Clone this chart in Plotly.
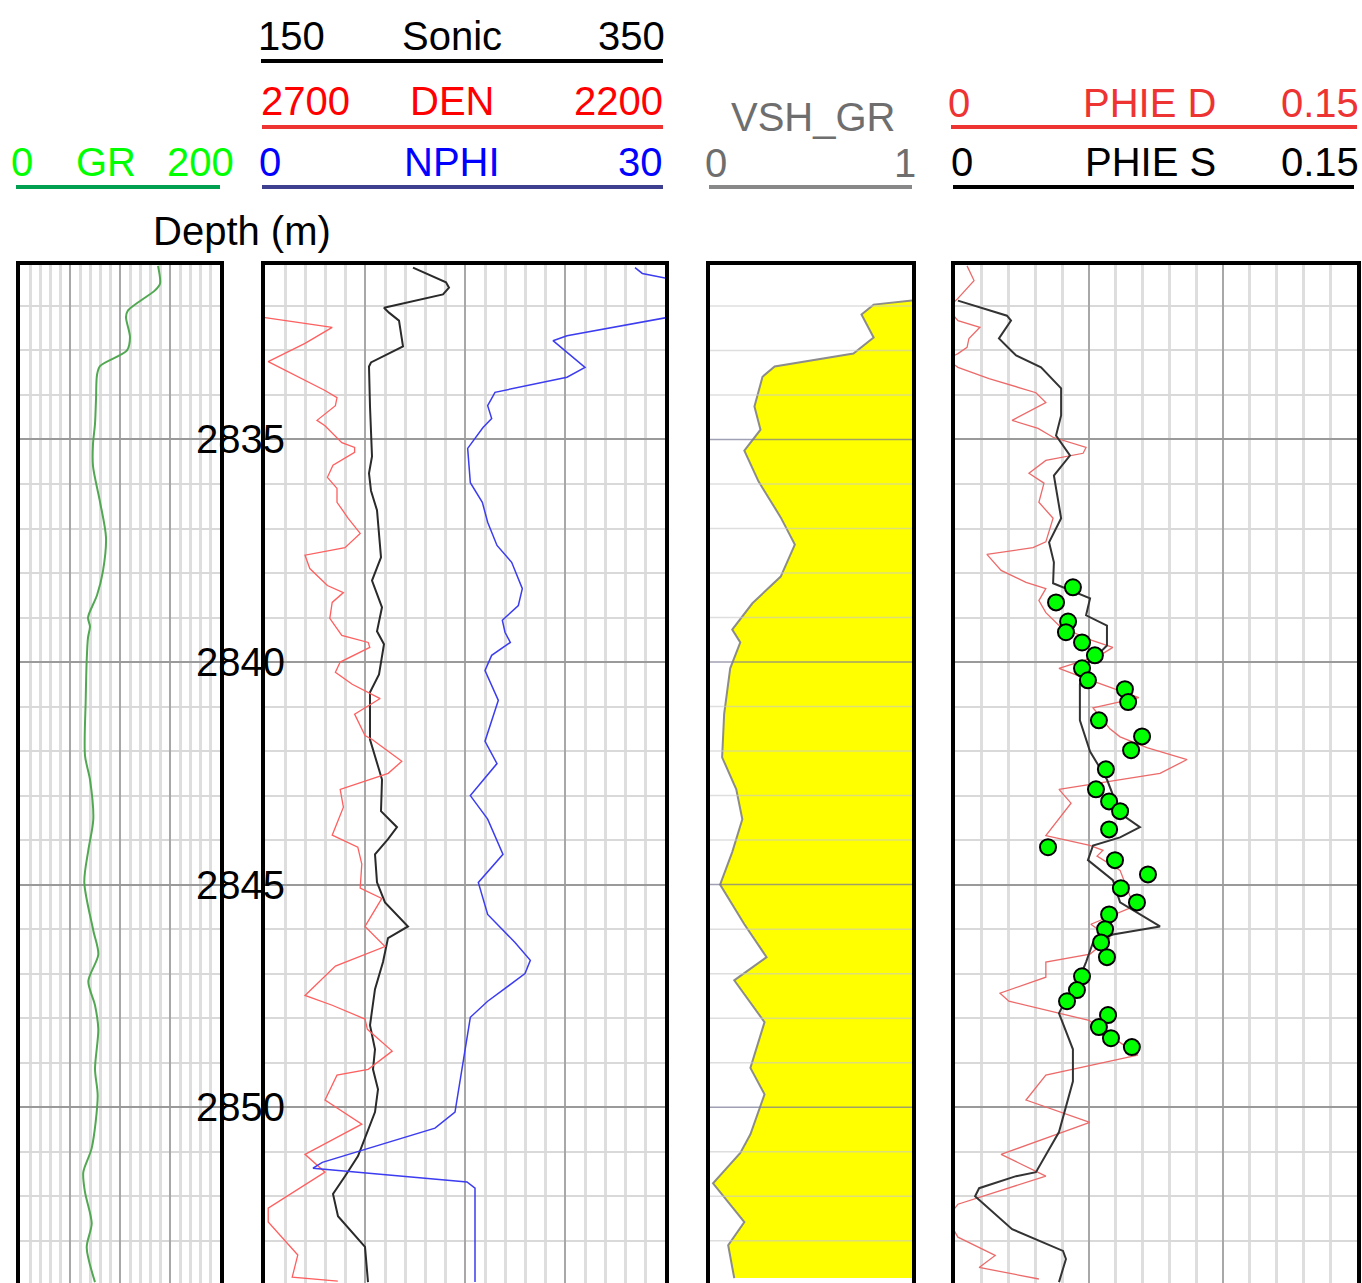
import math
import plotly.graph_objects as go

W, H = 1362, 1283

def fx(p):
    return p / W

def fy(p):
    return 1 - p / H

FONT = "Liberation Sans, Arial, sans-serif"
FS = 40

DEPTH_TOP = 2831.08
DEPTH_BOT = 2853.95
depth_major = [2835, 2840, 2845, 2850]
depth_labels = ["2835", "2840", "2845", "2850"]

# ---------------- GR ----------------
gr_depth = [2831.1, 2831.5, 2831.65, 2832.1, 2832.25, 2832.7, 2833.0, 2833.35, 2833.55,
            2834.1, 2834.65, 2835.1, 2835.6, 2836.4, 2837.2, 2837.95, 2838.5, 2839.0,
            2839.2, 2839.45, 2839.96, 2840.86, 2842.1, 2842.64, 2843.53, 2844.23, 2844.95,
            2846.03, 2846.57, 2847.17, 2847.71, 2848.25, 2849.15, 2849.75, 2850.92,
            2851.46, 2851.91, 2852.61, 2853.15, 2853.93]
gr_val = [138, 140, 135, 108, 106, 110, 107, 80, 77,
          76, 75, 73, 73, 80, 86, 83, 77, 68,
          70, 68, 66.7, 65.7, 65, 70, 73.3, 68.3, 64.3,
          73.3, 78.3, 68.3, 75, 78.3, 75, 77.7, 71.7,
          63.3, 65, 71.7, 66.7, 75]

# ---------------- Sonic ----------------
son_depth = [2831.14, 2831.47, 2831.59, 2831.74, 2832.04, 2832.15, 2832.33, 2832.91, 2833.27,
             2833.36, 2834.26, 2835.38, 2835.76, 2836.15, 2836.59, 2837.65, 2838.17, 2838.77,
             2839.31, 2839.6, 2840.28, 2840.68, 2841.74, 2842.64, 2843.35, 2843.71, 2843.98,
             2844.32, 2844.95, 2845.4, 2845.94, 2846.2, 2846.74, 2847.35, 2848.16, 2848.7,
             2849.15, 2849.6, 2850.11, 2851.1, 2851.55, 2851.95, 2852.45, 2852.87, 2853.14,
             2853.93]
son_val = [224, 240.5, 242, 239, 209.5, 212, 217, 219, 203,
           202, 202.5, 203.5, 202, 203, 206, 208, 203.5, 208.5,
           206, 209.5, 207, 202.5, 202.5, 208.5, 208, 216, 211.5,
           205, 206, 210, 221.5, 211.5, 209, 205, 202.5, 205,
           204, 206.5, 205, 196.5, 190, 184, 186.5, 195, 200,
           201.5]

# ---------------- DEN ----------------
den_depth = [2832.26, 2832.48, 2832.84, 2833.25, 2833.9, 2834.06, 2834.24, 2834.57, 2834.69,
             2835.07, 2835.18, 2835.29, 2835.58, 2835.85, 2836.1, 2836.41, 2836.77, 2837.11,
             2837.43, 2837.6, 2837.9, 2838.28, 2838.44, 2838.66, 2839.02, 2839.4, 2839.56,
             2839.67, 2840.0, 2840.23, 2840.5, 2840.82, 2841.17, 2841.65, 2841.74, 2842.23,
             2842.5, 2842.86, 2843.26, 2843.89, 2844.16, 2844.54, 2845.08, 2845.31, 2845.94,
             2846.39, 2846.83, 2847.49, 2847.71, 2848.02, 2848.25, 2848.74, 2849.15, 2849.28,
             2849.84, 2850.38, 2851.06, 2851.46, 2852.27, 2852.58, 2853.32, 2853.82, 2853.91]
den_val = [2700, 2616, 2650, 2696, 2625, 2610, 2612, 2635, 2625,
           2604, 2588, 2588, 2615, 2622, 2610, 2610, 2596, 2581,
           2600, 2650, 2644, 2622, 2602, 2616, 2619, 2604, 2571,
           2569, 2606, 2612, 2591, 2556, 2588, 2575, 2566, 2529,
           2546, 2606, 2602, 2616, 2584, 2579, 2581, 2554, 2575,
           2550, 2612, 2650, 2616, 2575, 2572, 2541, 2571, 2610,
           2625, 2579, 2650, 2625, 2696, 2696, 2659, 2666, 2609]

# ---------------- NPHI ----------------
nphi_depth = [2831.14, 2831.27, 2831.38, 2831.8, 2832.26, 2832.67, 2832.78, 2833.05, 2833.38,
              2833.6, 2833.94, 2834.24, 2834.53, 2834.73, 2835.2, 2835.97, 2836.41, 2836.86,
              2837.38, 2837.76, 2838.35, 2838.73, 2839.06, 2839.33, 2839.56, 2839.85, 2840.19,
              2840.86, 2841.56, 2841.78, 2842.28, 2843.0, 2843.53, 2844.32, 2844.95, 2845.67,
              2846.3, 2846.7, 2847.0, 2847.62, 2847.98, 2848.97, 2850.11, 2850.47, 2851.24,
              2851.37, 2851.68, 2851.82, 2853.93]
nphi_val = [27.75, 28.3, 30.15, 34.0, 30.15, 22.65, 21.6, 22.7, 24.0,
            22.65, 17.25, 16.7, 17.0, 16.35, 15.2, 15.4, 16.3, 16.7,
            17.4, 18.5, 19.3, 19.0, 17.8, 18.0, 18.4, 17.0, 16.5,
            17.5, 16.7, 16.5, 17.4, 15.4, 16.7, 17.85, 16.0, 16.7,
            18.75, 19.9, 19.5, 16.7, 15.4, 14.85, 14.25, 12.75, 4.3,
            3.6, 15.15, 15.75, 15.75]

# ---------------- VSH_GR ----------------
vsh_depth = [2831.88, 2831.97, 2832.19, 2832.71, 2833.07, 2833.36, 2833.59, 2834.26, 2834.78,
             2835.25, 2835.94, 2836.75, 2837.36, 2838.08, 2838.68, 2839.27, 2839.56, 2840.14,
             2841.17, 2842.14, 2842.86, 2843.53, 2844.27, 2845.0, 2845.89, 2846.63, 2847.15,
             2848.09, 2849.12, 2849.71, 2850.61, 2851.03, 2851.71, 2852.58, 2853.1, 2853.84]
vsh_val = [1.0, 0.81, 0.75, 0.81, 0.71, 0.32, 0.26, 0.22, 0.25,
           0.17, 0.24, 0.35, 0.42, 0.35, 0.21, 0.11, 0.15, 0.10,
           0.07, 0.06, 0.13, 0.16, 0.11, 0.05, 0.17, 0.28, 0.12,
           0.27, 0.20, 0.27, 0.20, 0.15, 0.015, 0.17, 0.09, 0.12]

# ---------------- PHIE D ----------------
phid_depth = [2831.1, 2831.43, 2831.83, 2832.05, 2832.33, 2832.48, 2832.73, 2832.93, 2833.07,
              2833.2, 2833.38, 2833.63, 2833.95, 2834.17, 2834.57, 2834.75, 2834.95, 2835.18,
              2835.31, 2835.47, 2835.76, 2835.98, 2836.41, 2836.77, 2837.3, 2837.43, 2837.58,
              2837.94, 2838.21, 2838.35, 2838.62, 2838.89, 2839.18, 2839.47, 2839.67, 2839.85,
              2840.14, 2840.37, 2840.8, 2841.03, 2841.5, 2841.68, 2841.92, 2842.19, 2842.5,
              2842.86, 2843.17, 2843.53, 2843.9, 2844.12, 2844.23, 2844.36, 2844.68, 2845.49,
              2845.89, 2846.2, 2846.56, 2846.74, 2847.08, 2847.44, 2847.62, 2848.05, 2848.83,
              2849.28, 2849.84, 2850.34, 2851.06, 2851.55, 2852.18, 2852.5, 2852.92, 2853.33,
              2853.6, 2853.86]
phid_val = [0.0045, 0.0071, 0.0011, -0.003, 0.0011, 0.0093, 0.0052, 0.0045, 0.0011,
            -0.003, 0.0011, 0.0127, 0.0302, 0.0339, 0.0213, 0.0310, 0.0366, 0.0489,
            0.0478, 0.0339, 0.0276, 0.0332, 0.0313, 0.0366, 0.0339, 0.0291, 0.0119,
            0.0172, 0.0265, 0.0339, 0.0313, 0.0339, 0.0388, 0.0489, 0.0589, 0.0541,
            0.0388, 0.0489, 0.0686, 0.0515, 0.0578, 0.0616, 0.0716, 0.0866, 0.0765,
            0.0388, 0.0433, 0.0388, 0.0339, 0.0503, 0.0552, 0.0530, 0.0616, 0.0668,
            0.0507, 0.0578, 0.0504, 0.0339, 0.0339, 0.0168, 0.0201, 0.0500, 0.0682,
            0.0339, 0.0265, 0.0503, 0.0172, 0.0339, 0.0011, -0.003, 0.0011, 0.0150,
            0.0090, 0.0313]

# ---------------- PHIE S ----------------
phis_depth = [2831.88, 2832.22, 2832.33, 2832.73, 2833.0, 2833.11, 2833.38, 2833.85, 2834.46,
              2834.91, 2835.36, 2835.81, 2836.77, 2837.31, 2837.76, 2838.23, 2838.57, 2838.95,
              2839.18, 2839.63, 2839.85, 2840.08, 2840.5, 2841.31, 2842.01, 2842.64, 2843.4,
              2843.71, 2843.94, 2844.12, 2844.45, 2844.9, 2845.4, 2845.94, 2846.12, 2846.3,
              2846.74, 2847.08, 2847.71, 2847.89, 2848.7, 2849.42, 2850.56, 2851.46, 2851.55,
              2851.82, 2852.0, 2852.74, 2853.23, 2853.41, 2853.93]
phis_val = [0.0011, 0.0194, 0.0209, 0.0164, 0.0209, 0.0228, 0.0321, 0.0396, 0.0396,
            0.0377, 0.0429, 0.0369, 0.0396, 0.0351, 0.0369, 0.0366, 0.0504, 0.0489,
            0.0567, 0.0567, 0.0530, 0.0485, 0.0466, 0.0466, 0.0504, 0.0567, 0.0616,
            0.0690, 0.0616, 0.0515, 0.0496, 0.0589, 0.0616, 0.0765, 0.0589, 0.0515,
            0.0489, 0.0466, 0.0403, 0.0388, 0.0440, 0.0440, 0.0388, 0.0302, 0.0228,
            0.0090, 0.0075, 0.0213, 0.0403, 0.0414, 0.0388]

# ---------------- Core porosity points ----------------
core_depth = [2838.32, 2838.66, 2839.09, 2839.33, 2839.56, 2839.85, 2840.14, 2840.41, 2840.61,
              2840.9, 2841.31, 2841.67, 2841.98, 2842.41, 2842.86, 2843.13, 2843.35, 2843.76,
              2844.16, 2844.45, 2844.77, 2845.08, 2845.4, 2845.67, 2846.0, 2846.3, 2846.63,
              2847.06, 2847.37, 2847.62, 2847.93, 2848.2, 2848.45, 2848.65]
core_phi = [0.0440, 0.0377, 0.0422, 0.0414, 0.0474, 0.0522, 0.0474, 0.0496, 0.0634,
            0.0646, 0.0537, 0.0698, 0.0657, 0.0563, 0.0526, 0.0575, 0.0616, 0.0575,
            0.0347, 0.0597, 0.0720, 0.0619, 0.0679, 0.0575, 0.0560, 0.0545, 0.0567,
            0.0474, 0.0455, 0.0418, 0.0571, 0.0537, 0.0582, 0.0660]

# ---------------- Scales / header labels ----------------
GR_RANGE = [0, 200]
SON_RANGE = [150, 350]
DEN_RANGE = [2700, 2200]
NPHI_RANGE = [0, 30]
VSH_RANGE = [0, 1]
PHI_RANGE = [0, 0.15]

sonic_hdr = ["150", "Sonic", "350"]
den_hdr = ["2700", "DEN", "2200"]
nphi_hdr = ["0", "NPHI", "30"]
gr_hdr = ["0", "GR", "200"]
vsh_hdr = ["0", "VSH_GR", "1"]
phid_hdr = ["0", "PHIE D", "0.15"]
phis_hdr = ["0", "PHIE S", "0.15"]

fig = go.Figure()

fig.add_trace(go.Scatter(x=gr_val, y=gr_depth, mode="lines", xaxis="x", yaxis="y",
                         line=dict(color="#52a852", width=2, shape="spline", smoothing=0.8)))
fig.add_trace(go.Scatter(x=den_val, y=den_depth, mode="lines", xaxis="x3", yaxis="y2",
                         line=dict(color="#ff5f5f", width=1.3)))
fig.add_trace(go.Scatter(x=son_val, y=son_depth, mode="lines", xaxis="x2", yaxis="y2",
                         line=dict(color="#2a2a2a", width=2)))
fig.add_trace(go.Scatter(x=nphi_val, y=nphi_depth, mode="lines", xaxis="x4", yaxis="y2",
                         line=dict(color="#3c3cf0", width=1.5)))
# VSH fill to right edge of the scale
fig.add_trace(go.Scatter(x=[VSH_RANGE[1]] * len(vsh_depth), y=vsh_depth, mode="lines",
                         xaxis="x5", yaxis="y3", line=dict(width=0, color="rgba(0,0,0,0)")))
fig.add_trace(go.Scatter(x=vsh_val, y=vsh_depth, mode="lines", xaxis="x5", yaxis="y3",
                         fill="tonextx", fillcolor="#ffff00",
                         line=dict(color="#8c8c8c", width=2)))
fig.add_trace(go.Scatter(x=phid_val, y=phid_depth, mode="lines", xaxis="x6", yaxis="y4",
                         line=dict(color="#ec6a6a", width=1.3)))
fig.add_trace(go.Scatter(x=phis_val, y=phis_depth, mode="lines", xaxis="x6", yaxis="y4",
                         line=dict(color="#333333", width=2)))
fig.add_trace(go.Scatter(x=core_phi, y=core_depth, mode="markers", xaxis="x6", yaxis="y4",
                         marker=dict(color="#00ff00", size=16, line=dict(color="black", width=2))))

YDOM = [0, fy(265)]
minor_grid = "#d9d9d9"
major_grid = "#9a9a9a"


def yax(anchor, grid=True):
    return dict(range=[DEPTH_BOT, DEPTH_TOP], domain=YDOM, anchor=anchor,
                showline=True, mirror=True, linewidth=4, linecolor="black",
                ticks="", showticklabels=False, zeroline=False,
                showgrid=grid, tickvals=depth_major, gridcolor=major_grid, gridwidth=1.5,
                minor=dict(dtick=1, tick0=2830, showgrid=grid, gridcolor=minor_grid, gridwidth=1.5))


def xax(rng, dom, anchor, major, minor):
    return dict(range=rng, domain=dom, anchor=anchor, side="top",
                showline=True, linewidth=4, linecolor="black",
                ticks="", showticklabels=False, zeroline=False,
                showgrid=major is not None, tickvals=major or [], gridcolor="#a8a8a8", gridwidth=2,
                minor=dict(tickvals=minor or [], showgrid=minor is not None,
                           gridcolor="#dedede", gridwidth=2.5))


gr_major = [50, 100, 150]
gr_minor = [v for v in range(10, 200, 10) if v not in gr_major]
son_major = [200, 250, 300]
son_minor = [v for v in range(160, 350, 10) if v not in son_major]
phi_major = [0.05, 0.10]
phi_minor = [round(0.01 * i, 2) for i in range(1, 15) if i % 5 != 0]

fig.update_layout(
    width=W, height=H, margin=dict(l=0, r=0, t=0, b=0, pad=0),
    paper_bgcolor="white", plot_bgcolor="white", showlegend=False,
    xaxis=xax(GR_RANGE, [fx(20), fx(220)], "y", gr_major, gr_minor),
    xaxis2=xax(SON_RANGE, [fx(265), fx(665)], "y2", son_major, son_minor),
    xaxis3=dict(range=DEN_RANGE, overlaying="x2", anchor="y2", visible=False),
    xaxis4=dict(range=NPHI_RANGE, overlaying="x2", anchor="y2", visible=False),
    xaxis5=xax(VSH_RANGE, [fx(710), fx(912)], "y3", None, None),
    xaxis6=xax(PHI_RANGE, [fx(955), fx(1357)], "y4", phi_major, phi_minor),
    yaxis=yax("x"),
    yaxis2=yax("x2"),
    yaxis3=yax("x5", grid=False),
    yaxis4=yax("x6"),
)

# VSH horizontal grid drawn over the fill
shapes = []
for d in range(int(math.ceil(DEPTH_TOP)), int(DEPTH_BOT) + 1):
    col = "rgba(120,120,150,0.7)" if d % 5 == 0 else "rgba(200,200,200,0.6)"
    shapes.append(dict(type="line", xref="x5", yref="y3", x0=VSH_RANGE[0], x1=VSH_RANGE[1],
                       y0=d, y1=d, line=dict(color=col, width=1.5), layer="above"))


def hline(x0, x1, y, color):
    shapes.append(dict(type="line", xref="paper", yref="paper", x0=fx(x0), x1=fx(x1),
                       y0=fy(y), y1=fy(y), line=dict(color=color, width=4)))


hline(261, 663, 61, "black")
hline(262, 663, 127, "#ee3333")
hline(262, 663, 187, "#3f3f8f")
hline(16, 220, 187, "#00a050")
hline(709, 912, 187, "#888888")
hline(951, 1357, 127, "#ee3333")
hline(953, 1354, 187, "black")
fig.update_layout(shapes=shapes)

ann = []


def text(t, x, y, color, anchor):
    ann.append(dict(text=t, x=fx(x), y=fy(y), xref="paper", yref="paper", showarrow=False,
                    xanchor=anchor, yanchor="middle", borderpad=0,
                    font=dict(family=FONT, size=FS, color=color)))


text(sonic_hdr[0], 257, 36, "black", "left")
text(sonic_hdr[1], 452, 36, "black", "center")
text(sonic_hdr[2], 666, 36, "black", "right")
text(den_hdr[0], 260, 101, "#ff0000", "left")
text(den_hdr[1], 452, 101, "#ff0000", "center")
text(den_hdr[2], 664, 101, "#ff0000", "right")
text(nphi_hdr[0], 258, 162, "#0000ff", "left")
text(nphi_hdr[1], 452, 162, "#0000ff", "center")
text(nphi_hdr[2], 664, 162, "#0000ff", "right")
text(gr_hdr[0], 10, 162, "#00ff00", "left")
text(gr_hdr[1], 106, 162, "#00ff00", "center")
text(gr_hdr[2], 235, 162, "#00ff00", "right")
text(vsh_hdr[0], 704, 163, "#6e6e6e", "left")
text(vsh_hdr[1], 813, 117, "#6e6e6e", "center")
text(vsh_hdr[2], 917, 163, "#6e6e6e", "right")
text(phid_hdr[0], 947, 103, "#ee3333", "left")
text(phid_hdr[1], 1149, 103, "#ee3333", "center")
text(phid_hdr[2], 1360, 103, "#ee3333", "right")
text(phis_hdr[0], 950, 162, "black", "left")
text(phis_hdr[1], 1150, 162, "black", "center")
text(phis_hdr[2], 1360, 162, "black", "right")
text("Depth (m)", 242, 231, "black", "center")

for d, lab in zip(depth_major, depth_labels):
    ann.append(dict(text=lab, x=fx(286), y=d, xref="paper", yref="y2", showarrow=False,
                    xanchor="right", yanchor="middle", borderpad=0,
                    font=dict(family=FONT, size=FS, color="black")))

fig.update_layout(annotations=ann)
fig.write_html("out.html", config={"displayModeBar": False},
               post_script="document.body.style.margin='0px';document.body.style.padding='0px';")
